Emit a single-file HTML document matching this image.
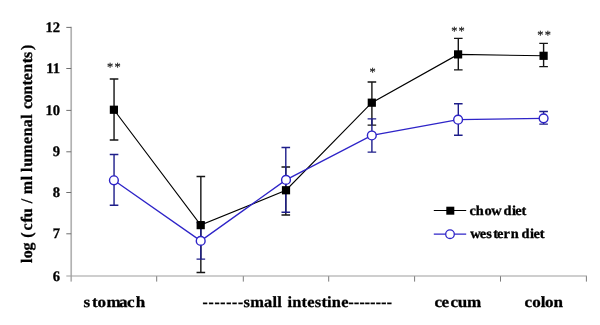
<!DOCTYPE html>
<html lang="en"><head><meta charset="utf-8"><title>chart</title>
<style>html,body{margin:0;padding:0;background:#fff;overflow:hidden}svg{display:block}</style>
</head><body>
<svg width="600" height="325" viewBox="0 0 600 325">
<rect width="600" height="325" fill="#fff"/>
<g stroke="#b2b2b2" stroke-width="1.7" fill="none">
<line x1="71.2" y1="26.8" x2="71.2" y2="281.6"/>
</g>
<g stroke="#7c7c7c" stroke-width="1.0" fill="none">
<line x1="156.7" y1="276" x2="156.7" y2="281.6"/>
<line x1="243.3" y1="276" x2="243.3" y2="281.6"/>
<line x1="328.7" y1="276" x2="328.7" y2="281.6"/>
<line x1="414.6" y1="276" x2="414.6" y2="281.6"/>
<line x1="500.5" y1="276" x2="500.5" y2="281.6"/>
<line x1="586.4" y1="276" x2="586.4" y2="281.6"/>
</g>
<g stroke="#9e9e9e" stroke-width="1.2" fill="none">
<line x1="66.3" y1="276.0" x2="587" y2="276.0"/>
<line x1="66.3" y1="233.8" x2="71.2" y2="233.8" stroke="#6e6e6e" stroke-width="1.0"/>
<line x1="66.3" y1="192.5" x2="71.2" y2="192.5" stroke="#6e6e6e" stroke-width="1.0"/>
<line x1="66.3" y1="151.8" x2="71.2" y2="151.8" stroke="#6e6e6e" stroke-width="1.0"/>
<line x1="66.3" y1="110.4" x2="71.2" y2="110.4" stroke="#6e6e6e" stroke-width="1.0"/>
<line x1="66.3" y1="68.5" x2="71.2" y2="68.5" stroke="#6e6e6e" stroke-width="1.0"/>
<line x1="66.3" y1="27.4" x2="71.2" y2="27.4" stroke="#6e6e6e" stroke-width="1.0"/>
</g>
<g stroke="#151515" stroke-width="1.4" fill="none">
<path d="M114.05 79.04V140.05M109.75 79.04H118.35M109.75 140.05H118.35"/>
<path d="M200.85 176.48V272.43M196.55 176.48H205.15M196.55 272.43H205.15"/>
<path d="M285.8 167.02V214.95M281.5 167.02H290.1M281.5 214.95H290.1"/>
<path d="M371.9 81.94V125.11M367.6 81.94H376.2M367.6 125.11H376.2"/>
<path d="M458.3 38.41V69.91M454.0 38.41H462.6M454.0 69.91H462.6"/>
<path d="M543.6 43.35V66.59M539.3 43.35H547.9M539.3 66.59H547.9"/>
</g>
<polyline points="113.9,109.75 200.7,225.12 286.0,190.26 371.8,102.69 458.1,54.39 543.6,55.8" fill="none" stroke="#000" stroke-width="1.15"/>
<g stroke="#1e1e8a" stroke-width="1.4" fill="none">
<path d="M114.05 154.57V205.2M109.75 154.57H118.35M109.75 205.2H118.35"/>
<path d="M200.85 222.63V259.15M196.55 222.63H205.15M196.55 259.15H205.15"/>
<path d="M285.8 147.52V212.25M281.5 147.52H290.1M281.5 212.25H290.1"/>
<path d="M371.9 118.88V152.08M367.6 118.88H376.2M367.6 152.08H376.2"/>
<path d="M458.3 103.82V135.31M454.0 103.82H462.6M454.0 135.31H462.6"/>
<path d="M543.6 111.53V124.15M539.3 111.53H547.9M539.3 124.15H547.9"/>
</g>
<polyline points="113.9,180.3 200.7,240.89 286.0,179.88 371.8,135.48 458.1,119.71 543.6,118.34" fill="none" stroke="#2e24c8" stroke-width="1.3"/>
<circle cx="113.9" cy="180.3" r="4.4" fill="#fff" stroke="#2e24c8" stroke-width="1.4"/>
<circle cx="200.7" cy="240.89" r="4.4" fill="#fff" stroke="#2e24c8" stroke-width="1.4"/>
<circle cx="286.0" cy="179.88" r="4.4" fill="#fff" stroke="#2e24c8" stroke-width="1.4"/>
<circle cx="371.8" cy="135.48" r="4.4" fill="#fff" stroke="#2e24c8" stroke-width="1.4"/>
<circle cx="458.1" cy="119.71" r="4.4" fill="#fff" stroke="#2e24c8" stroke-width="1.4"/>
<circle cx="543.6" cy="118.34" r="4.4" fill="#fff" stroke="#2e24c8" stroke-width="1.4"/>
<rect x="109.8" y="105.65" width="8.2" height="8.2" fill="#000"/>
<rect x="196.6" y="221.02" width="8.2" height="8.2" fill="#000"/>
<rect x="281.9" y="186.16" width="8.2" height="8.2" fill="#000"/>
<rect x="367.7" y="98.59" width="8.2" height="8.2" fill="#000"/>
<rect x="454.0" y="50.29" width="8.2" height="8.2" fill="#000"/>
<rect x="539.5" y="51.7" width="8.2" height="8.2" fill="#000"/>
<line x1="433.8" y1="210.5" x2="466.2" y2="210.5" stroke="#000" stroke-width="1.15"/>
<rect x="446.3" y="206.7" width="8" height="8" fill="#000"/>
<line x1="433.8" y1="234.2" x2="466.2" y2="234.2" stroke="#2e24c8" stroke-width="1.3"/>
<circle cx="450.0" cy="234.2" r="4.3" fill="#fff" stroke="#2e24c8" stroke-width="1.3"/>
<g font-family="'Liberation Serif', serif" font-weight="bold" fill="#000" stroke="#000" stroke-width="0.3" style="filter:grayscale(1);text-rendering:geometricPrecision">
<text x="60.0" y="280.6" font-size="14.6" text-anchor="end">6</text>
<text x="60.0" y="238.4" font-size="14.6" text-anchor="end">7</text>
<text x="60.0" y="197.1" font-size="14.6" text-anchor="end">8</text>
<text x="60.0" y="156.4" font-size="14.6" text-anchor="end">9</text>
<text x="60.0" y="115.0" font-size="14.6" text-anchor="end">10</text>
<text x="60.0" y="73.1" font-size="14.6" text-anchor="end">11</text>
<text x="60.0" y="32.0" font-size="14.6" text-anchor="end">12</text>
<text transform="scale(1.06,1)" x="442.93 448.91 457.03 463.55 473.37 474.92 482.91 486.14 492.00" y="215.0" font-size="13.6">chow diet</text>
<text transform="scale(1.06,1)" x="443.64 452.55 458.83 465.25 468.97 475.11 481.90 489.46 491.90 500.08 503.21 509.31" y="238.2" font-size="13.6">western diet</text>
<text transform="scale(1.1,1)" x="75.89 83.66 88.68 96.86 108.23 115.47 123.34" y="307.0" font-size="15.5">stomach</text>
<text x="202.6" y="307.2" font-size="15.5" textLength="40.6" lengthAdjust="spacing">-------</text>
<text transform="scale(1.06,1)" x="229.72" y="307.0" font-size="15.5" textLength="36.21" lengthAdjust="spacing">small</text>
<text transform="scale(1.06,1)" x="271.17" y="307.0" font-size="15.5" textLength="57.63" lengthAdjust="spacing">intestine</text>
<text x="348.4" y="307.2" font-size="15.5" textLength="43.6" lengthAdjust="spacing">--------</text>
<text transform="scale(1.1,1)" x="394.92 401.47 409.65 416.13 424.58" y="307.0" font-size="15.5">cecum</text>
<text transform="scale(1.1,1)" x="476.74 483.77 491.70 495.41 503.22" y="307.0" font-size="15.5">colon</text>
<text transform="translate(31.9,262.7) rotate(-90) scale(1.0,1)" x="-0.21 4.49 12.08 20.08 24.90 32.25 40.08 45.46 54.36 59.56 64.00 68.57 82.49 86.93 90.79 96.06 105.07 118.75 126.27 135.38 143.89 148.33 153.75 160.19 167.87 177.24 182.45 189.97 199.44 204.72 212.58" y="0" font-size="16">log (cfu / ml lumenal contents)</text>
</g>
<g font-family="'Liberation Serif', serif" fill="#111" stroke="#111" stroke-width="0.2" font-size="12.4" text-anchor="middle" style="filter:grayscale(1);text-rendering:geometricPrecision">
<text x="110.0" y="70.9">*</text>
<text x="117.65" y="70.9">*</text>
<text x="372.7" y="76.0">*</text>
<text x="454.3" y="34.7">*</text>
<text x="461.65" y="34.7">*</text>
<text x="540.4" y="39.3">*</text>
<text x="547.9" y="39.3">*</text>
</g>
</svg>
</body></html>
